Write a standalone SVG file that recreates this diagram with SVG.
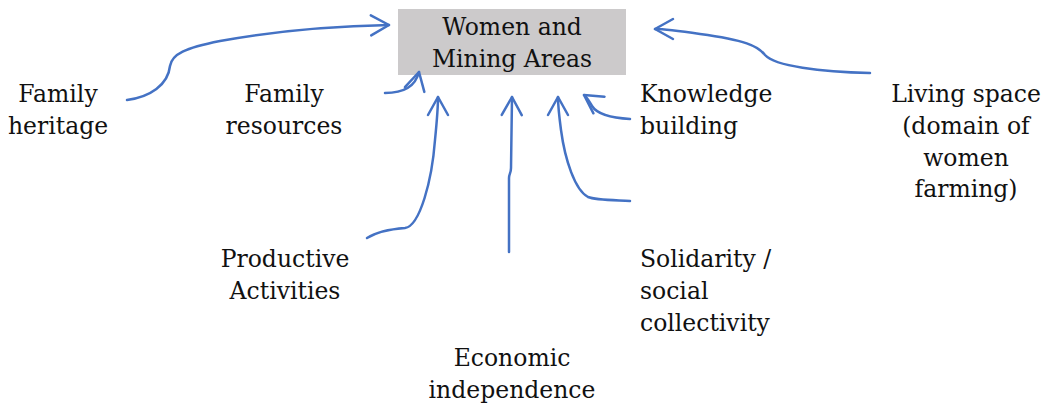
<svg xmlns="http://www.w3.org/2000/svg" width="1044" height="408" viewBox="0 0 1044 408">
<style>
.lbl{font-family:"DejaVu Serif","Liberation Serif",serif;font-size:23.5px;fill:#111;}
.mid{text-anchor:middle;}
.con{fill:none;stroke:#4472C4;stroke-width:2.5;stroke-linecap:round;stroke-linejoin:round;marker-end:url(#ah);}
</style>
<defs>
<marker id="ah" markerUnits="userSpaceOnUse" viewBox="-21 -13 24 26" refX="0" refY="0" markerWidth="24" markerHeight="26" orient="auto">
<path d="M-18,-10 L0,0 L-18,10" fill="none" stroke="#4472C4" stroke-width="2.5" stroke-linecap="round" stroke-linejoin="round"/>
</marker>
</defs>
<rect width="1044" height="408" fill="#fff"/>
<g id="center">
<rect x="398" y="9" width="228" height="66" fill="#CCCACB"/>
<text class="lbl mid" x="512" y="35">Women and</text>
<text class="lbl mid" x="512" y="67">Mining Areas</text>
</g>
<g id="family-heritage">
<text class="lbl mid" x="58" y="102">Family</text>
<text class="lbl mid" x="58" y="134">heritage</text>
</g>
<g id="family-resources">
<text class="lbl mid" x="284" y="102">Family</text>
<text class="lbl mid" x="284" y="134">resources</text>
</g>
<g id="knowledge-building">
<text class="lbl" x="640" y="102">Knowledge</text>
<text class="lbl" x="640" y="134">building</text>
</g>
<g id="living-space">
<text class="lbl mid" x="966" y="102">Living space</text>
<text class="lbl mid" x="966" y="134">(domain of</text>
<text class="lbl mid" x="966" y="166">women</text>
<text class="lbl mid" x="966" y="197">farming)</text>
</g>
<g id="productive-activities">
<text class="lbl mid" x="285" y="267">Productive</text>
<text class="lbl mid" x="285" y="299">Activities</text>
</g>
<g id="solidarity">
<text class="lbl" x="640" y="267">Solidarity /</text>
<text class="lbl" x="640" y="299">social</text>
<text class="lbl" x="640" y="331">collectivity</text>
</g>
<g id="economic-independence">
<text class="lbl mid" x="512" y="366">Economic</text>
<text class="lbl mid" x="512" y="398">independence</text>
</g>
<g id="connectors">
<path class="con" d="M127,100 C150,97 168,85 170,66 C172,54 185,48 220,41 C280,30 340,26 389,25"/>
<path class="con" d="M385,93 C402,93 415,88 419,72"/>
<path class="con" d="M367,238 C378,231 392,229 405,228 C420,226 432,180 435,140 C437,120 438,105 438,97"/>
<path class="con" d="M509,252 L509,178 C509,174 511,173 511,168 L512,97"/>
<path class="con" d="M630,201 C610,200 595,200 588,197 C575,190 565,160 561,130 C559,115 558,105 558,97"/>
<path class="con" d="M630,119 C612,118 597,114 592,106 C589,101 587,97 584,95"/>
<path class="con" d="M870,73 C820,72 775,66 765,55 C758,46 745,40 700,34 C680,31 665,29 655,29"/>
</g>
</svg>
